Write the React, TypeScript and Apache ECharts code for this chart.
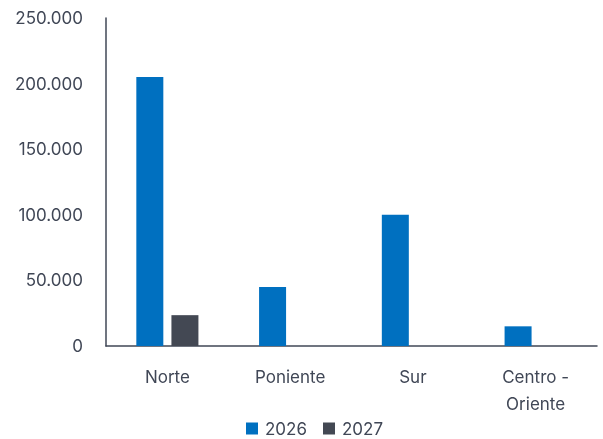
import React, { useEffect, useRef } from "react";
import * as echarts from "echarts";

const categories = ["Norte", "Poniente", "Sur", "Centro -\nOriente"];
const seriesNames = ["2026", "2027"];
const values2026 = [205000, 45000, 100000, 15000];
const values2027 = [23500, 0, 0, 0];
const yTicks = { min: 0, max: 250000, interval: 50000 };

const textColor = "#404756";
const fontFamily = "Inter, 'Noto Sans', sans-serif";

function fmt(v: number): string {
  return String(v).replace(/\B(?=(\d{3})+(?!\d))/g, ".");
}

export default function App() {
  const ref = useRef<HTMLDivElement>(null);
  useEffect(() => {
    if (!ref.current) return;
    const chart = echarts.init(ref.current, undefined, { renderer: "svg" });
    chart.setOption({
      animation: false,
      textStyle: { fontFamily },
      grid: { left: 106, right: 6, top: 18, bottom: 93, containLabel: false },
      legend: {
        top: 420,
        left: 246,
        padding: 0,
        itemWidth: 12,
        itemHeight: 12,
        itemGap: 16,
        icon: "rect",
        textStyle: { color: textColor, fontSize: 17, fontFamily, padding: [0, 0, 0, 2] },
        data: seriesNames,
      },
      xAxis: {
        type: "category",
        data: categories,
        axisLine: { lineStyle: { color: textColor, width: 1.5 } },
        axisTick: { show: false },
        axisLabel: {
          color: textColor,
          fontSize: 17,
          margin: 17,
          lineHeight: 27,
          interval: 0,
          fontFamily,
        },
      },
      yAxis: {
        type: "value",
        min: yTicks.min,
        max: yTicks.max,
        interval: yTicks.interval,
        axisLine: { show: true, lineStyle: { color: textColor, width: 1.5 } },
        axisTick: { show: false },
        splitLine: { show: false },
        axisLabel: {
          color: textColor,
          fontSize: 17,
          margin: 23,
          fontFamily,
          formatter: (v: number) => fmt(v),
        },
      },
      series: [
        {
          name: seriesNames[0],
          type: "bar",
          data: values2026,
          barWidth: 27,
          barGap: "30%",
          itemStyle: { color: "#0070C0" },
        },
        {
          name: seriesNames[1],
          type: "bar",
          data: values2027,
          barWidth: 27,
          barGap: "30%",
          itemStyle: { color: "#434853" },
        },
      ],
    });
    return () => chart.dispose();
  }, []);
  return (
    <div
      ref={ref}
      style={{ position: "fixed", left: 0, top: 0, width: 603, height: 439 }}
    />
  );
}
